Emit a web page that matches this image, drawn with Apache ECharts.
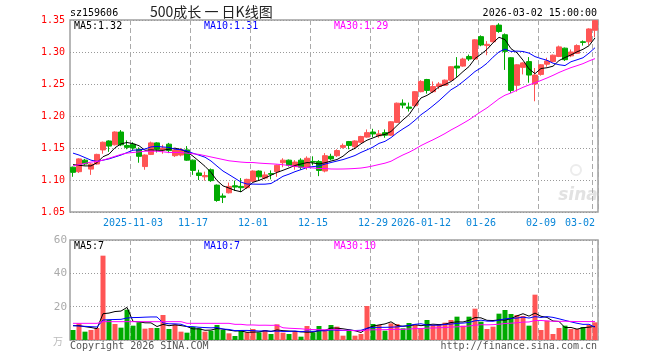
<!DOCTYPE html>
<html><head><meta charset="utf-8">
<script src="https://cdn.jsdelivr.net/npm/echarts@6/dist/echarts.min.js"></script>
<style>html,body{margin:0;padding:0;background:#fff}#c{width:660px;height:360px}</style>
</head><body><div id="c"></div>
<script>
// ---- DATA ----
const dates = [
'2025-10-20','2025-10-21','2025-10-22','2025-10-23','2025-10-24','2025-10-27','2025-10-28','2025-10-29','2025-10-30','2025-10-31',
'2025-11-03','2025-11-04','2025-11-05','2025-11-06','2025-11-07','2025-11-10','2025-11-11','2025-11-12','2025-11-13','2025-11-14',
'2025-11-17','2025-11-18','2025-11-19','2025-11-20','2025-11-21','2025-11-24','2025-11-25','2025-11-26','2025-11-27','2025-11-28',
'2025-12-01','2025-12-02','2025-12-03','2025-12-04','2025-12-05','2025-12-08','2025-12-09','2025-12-10','2025-12-11','2025-12-12',
'2025-12-15','2025-12-16','2025-12-17','2025-12-18','2025-12-19','2025-12-22','2025-12-23','2025-12-24','2025-12-25','2025-12-26',
'2025-12-29','2025-12-30','2025-12-31','2026-01-05','2026-01-06','2026-01-07','2026-01-08','2026-01-09',
'2026-01-12','2026-01-13','2026-01-14','2026-01-15','2026-01-16','2026-01-19','2026-01-20','2026-01-21','2026-01-22','2026-01-23',
'2026-01-26','2026-01-27','2026-01-28','2026-01-29','2026-01-30','2026-02-02','2026-02-03','2026-02-04','2026-02-05','2026-02-06',
'2026-02-09','2026-02-10','2026-02-11','2026-02-12','2026-02-13','2026-02-24','2026-02-25','2026-02-26','2026-02-27','2026-03-02'];

// [open, close, low, high]
const ohlc = [
[1.120,1.112,1.105,1.121],[1.113,1.133,1.111,1.134],[1.131,1.125,1.123,1.133],[1.117,1.125,1.108,1.126],[1.125,1.140,1.124,1.141],
[1.147,1.159,1.141,1.160],[1.161,1.153,1.144,1.162],[1.155,1.175,1.154,1.176],[1.175,1.155,1.153,1.178],[1.154,1.151,1.148,1.162],
[1.156,1.150,1.147,1.159],[1.148,1.137,1.127,1.151],[1.121,1.139,1.116,1.140],[1.140,1.158,1.139,1.160],[1.158,1.148,1.143,1.159],
[1.147,1.150,1.141,1.155],[1.156,1.146,1.142,1.158],[1.138,1.147,1.136,1.149],[1.139,1.147,1.137,1.150],[1.147,1.131,1.130,1.153],
[1.131,1.115,1.108,1.132],[1.111,1.107,1.100,1.116],[1.105,1.107,1.099,1.113],[1.116,1.099,1.097,1.118],[1.092,1.068,1.066,1.093],
[1.075,1.073,1.064,1.079],[1.080,1.090,1.079,1.096],[1.091,1.089,1.083,1.099],[1.090,1.088,1.081,1.103],[1.088,1.101,1.086,1.102],
[1.098,1.114,1.097,1.115],[1.114,1.105,1.099,1.115],[1.103,1.108,1.101,1.113],[1.110,1.109,1.101,1.115],[1.113,1.123,1.105,1.124],
[1.127,1.131,1.120,1.134],[1.131,1.123,1.121,1.132],[1.121,1.128,1.116,1.131],[1.131,1.120,1.116,1.134],[1.120,1.134,1.116,1.137],
[1.129,1.128,1.123,1.137],[1.129,1.115,1.106,1.131],[1.114,1.138,1.112,1.142],[1.137,1.133,1.131,1.141],[1.138,1.146,1.136,1.148],
[1.151,1.154,1.149,1.157],[1.160,1.154,1.148,1.161],[1.152,1.161,1.148,1.162],[1.159,1.168,1.158,1.169],[1.167,1.174,1.166,1.179],
[1.175,1.172,1.167,1.180],[1.169,1.172,1.166,1.178],[1.174,1.170,1.166,1.179],[1.170,1.191,1.169,1.192],[1.190,1.220,1.189,1.221],
[1.220,1.217,1.212,1.226],[1.214,1.212,1.207,1.221],[1.216,1.238,1.214,1.239],[1.238,1.254,1.237,1.256],[1.257,1.240,1.235,1.258],
[1.238,1.246,1.236,1.254],[1.246,1.250,1.242,1.253],[1.248,1.256,1.247,1.257],[1.256,1.277,1.255,1.278],[1.278,1.275,1.261,1.292],
[1.278,1.289,1.277,1.291],[1.293,1.289,1.286,1.296],[1.289,1.319,1.288,1.320],[1.324,1.311,1.309,1.326],[1.310,1.312,1.295,1.317],
[1.316,1.341,1.315,1.342],[1.342,1.332,1.330,1.345],[1.327,1.301,1.272,1.329],[1.291,1.240,1.236,1.292],[1.248,1.280,1.238,1.281],
[1.276,1.283,1.265,1.284],[1.285,1.264,1.252,1.292],[1.250,1.264,1.223,1.275],[1.265,1.280,1.263,1.281],[1.281,1.286,1.277,1.291],
[1.285,1.295,1.284,1.296],[1.293,1.308,1.292,1.310],[1.306,1.288,1.286,1.307],[1.294,1.300,1.292,1.304],[1.298,1.310,1.297,1.312],
[1.316,1.315,1.310,1.318],[1.316,1.336,1.311,1.337],[1.334,1.349,1.323,1.350]];

// volume (万)
const volume = [6,10,5,6,7.2,50.6,12,9.6,7.4,18.2, 8.6,10.6,6.8,7.2,7.2,15,6.6,9.4,5,4.4,
 7.8,7,5,5.6,9,6,4,2.4,6,4.6, 6.6,4.6,6,3.6,9.4,4.4,3.6,5,2,8.4,
 4.6,8.4,5.6,9,8,2.6,5.6,2.6,3.6,20.4, 9.6,9,5.6,10,9.6,7,10.2,9,7.2,12,
 9,9,10.4,12,14,8.6,14,18.8,11,6.6, 8,15.8,18,15.6,15,14.4,8.6,27.2,6,11.6,
 3.6,7.2,8.6,6.6,6.6,7.8,9,10.6];

const ma5Head = [1.124,1.123,1.122,1.122];
const ma10Head = [1.142,1.139,1.135,1.131,1.129,1.131,1.133,1.136,1.139];
const ma30Head = [1.122,1.124,1.126,1.128,1.129,1.131,1.134,1.137,1.140,1.142,1.143,1.144,1.145,1.145,1.145,
 1.144,1.143,1.143,1.143,1.142,1.141,1.140,1.138,1.136,1.134,1.132,1.130,1.129,1.128];
const vma5Head = [8.6,8.6,8.0,7.5];
const vma10Head = [8.6,8.4,8.2,8.0,7.8,12.0,12.2,12.3,12.4];
const vma30Head = [10,10,10,10,10,11,11,11,11,11,11,11,11,11,11,11,11,11,11,10,10,10,10,10,10,10,10,9.4,9.4];

const tickIdx = [10,20,30,40,50,58,68,78,87];
const tickLabels = ['2025-11-03','11-17','12-01','12-15','12-29','2026-01-12','01-26','02-09','03-02'];
const priceTicks = [1.05,1.35,0.05];
const volTicks = [0,60,20];
const legendPrice = ['MA5:1.32','MA10:1.31','MA30:1.29'];
const legendVol = ['MA5:7','MA10:7','MA30:10'];

// ---- BUILD ----
const closes = ohlc.map(d => d[1]);
function ma(arr, n, head) {
  return arr.map((v, i) => {
    if (i < n - 1) return head[i];
    let s = 0; for (let k = i - n + 1; k <= i; k++) s += arr[k];
    return +(s / n).toFixed(4);
  });
}
const UP = '#ff5555', DOWN = '#00aa00';
const mono = 'DejaVu Sans Mono';
const labelMap = {}; tickIdx.forEach((t, k) => labelMap[t] = tickLabels[k]);
const isTick = (i) => labelMap[i] !== undefined;
const catData = dates.map((d, i) => i === dates.length - 1 ? {value: d, textStyle: {align: 'right'}} : d);

const volData = volume.map((v, i) => ({value: v, itemStyle: {color: ohlc[i][1] >= ohlc[i][0] ? UP : DOWN}}));

const split = {show: true, interval: (i) => isTick(i), lineStyle: {color: '#aaa', type: [5, 3], width: 1}};

const chart = echarts.init(document.getElementById('c'), null, {renderer: 'canvas'});
chart.setOption({
  animation: false,
  backgroundColor: '#fff',
  grid: [
    {left: 70, top: 20, width: 528, height: 192, show: true, borderColor: '#a0a0a0', borderWidth: 1.5, containLabel: false},
    {left: 70, top: 240, width: 528, height: 100, show: true, borderColor: '#a0a0a0', borderWidth: 1.5, containLabel: false}
  ],
  xAxis: [
    {type: 'category', gridIndex: 0, data: catData, boundaryGap: true,
     axisLine: {show: false}, axisTick: {show: false},
     axisLabel: {show: true, interval: (i) => isTick(i), formatter: (v, i) => labelMap[i] || '',
       color: '#0a86d8', fontFamily: mono, fontSize: 10, margin: 6},
     splitLine: split},
    {type: 'category', gridIndex: 1, data: dates, boundaryGap: true,
     axisLine: {show: false}, axisTick: {show: false}, axisLabel: {show: false},
     splitLine: split}
  ],
  yAxis: [
    {type: 'value', gridIndex: 0, min: priceTicks[0], max: priceTicks[1], interval: priceTicks[2],
     axisLine: {show: false}, axisTick: {show: false},
     axisLabel: {color: '#ff0000', fontFamily: mono, fontSize: 10, margin: 5, formatter: v => v.toFixed(2)},
     splitLine: {show: true, lineStyle: {color: '#999', type: [1, 2], width: 1}}},
    {type: 'value', gridIndex: 1, min: volTicks[0], max: volTicks[1], interval: volTicks[2],
     axisLine: {show: false}, axisTick: {show: false},
     axisLabel: {color: '#aaa', fontFamily: mono, fontSize: 11, margin: 3, formatter: v => v === 0 ? '' : String(v)},
     splitLine: {show: true, lineStyle: {color: '#999', type: [1, 2], width: 1}}}
  ],
  series: [
    {type: 'candlestick', xAxisIndex: 0, yAxisIndex: 0, data: ohlc, barWidth: 5, clip: true,
     itemStyle: {color: UP, color0: DOWN, borderColor: UP, borderColor0: DOWN, borderWidth: 1}},
    {type: 'line', xAxisIndex: 0, yAxisIndex: 0, data: ma(closes, 5, ma5Head), showSymbol: false, lineStyle: {color: '#000', width: 1}, itemStyle: {color: '#000'}},
    {type: 'line', xAxisIndex: 0, yAxisIndex: 0, data: ma(closes, 10, ma10Head), showSymbol: false, lineStyle: {color: '#0000ff', width: 1}, itemStyle: {color: '#0000ff'}},
    {type: 'line', xAxisIndex: 0, yAxisIndex: 0, data: ma(closes, 30, ma30Head), showSymbol: false, lineStyle: {color: '#ff00ff', width: 1}, itemStyle: {color: '#ff00ff'}},
    {type: 'bar', xAxisIndex: 1, yAxisIndex: 1, data: volData, barWidth: 5},
    {type: 'line', xAxisIndex: 1, yAxisIndex: 1, data: ma(volume, 5, vma5Head), showSymbol: false, lineStyle: {color: '#000', width: 1}},
    {type: 'line', xAxisIndex: 1, yAxisIndex: 1, data: ma(volume, 10, vma10Head), showSymbol: false, lineStyle: {color: '#0000ff', width: 1}},
    {type: 'line', xAxisIndex: 1, yAxisIndex: 1, data: ma(volume, 30, vma30Head), showSymbol: false, lineStyle: {color: '#ff00ff', width: 1}}
  ],
  graphic: [
    {type: 'text', x: 70, y: 13, style: {text: 'sz159606', font: '10px ' + mono, fill: '#000', verticalAlign: 'middle'}},
    {type: 'text', x: 150, y: 12, style: {text: '500成长 一 日K线图', font: '14px "Noto Sans CJK SC"', fill: '#222', verticalAlign: 'middle'}},
    {type: 'text', x: 597, y: 13, style: {text: '2026-03-02 15:00:00', font: '10px ' + mono, fill: '#000', align: 'right', verticalAlign: 'middle'}},
    {type: 'text', x: 74, y: 26, style: {text: legendPrice[0], font: '10px ' + mono, fill: '#000', verticalAlign: 'middle'}},
    {type: 'text', x: 204, y: 26, style: {text: legendPrice[1], font: '10px ' + mono, fill: '#0000ff', verticalAlign: 'middle'}},
    {type: 'text', x: 334, y: 26, style: {text: legendPrice[2], font: '10px ' + mono, fill: '#ff00ff', verticalAlign: 'middle'}},
    {type: 'text', x: 74, y: 246, style: {text: legendVol[0], font: '10px ' + mono, fill: '#000', verticalAlign: 'middle'}},
    {type: 'text', x: 204, y: 246, style: {text: legendVol[1], font: '10px ' + mono, fill: '#0000ff', verticalAlign: 'middle'}},
    {type: 'text', x: 334, y: 246, style: {text: legendVol[2], font: '10px ' + mono, fill: '#ff00ff', verticalAlign: 'middle'}},
    {type: 'text', x: 63, y: 341, style: {text: '万', font: '10px "Noto Sans CJK SC"', fill: '#bbb', align: 'right', verticalAlign: 'middle'}},
    {type: 'text', x: 70, y: 346, style: {text: 'Copyright 2026 SINA.COM', font: '10px ' + mono, fill: '#555', verticalAlign: 'middle'}},
    {type: 'text', x: 597, y: 346, style: {text: 'http://finance.sina.com.cn', font: '10px ' + mono, fill: '#555', align: 'right', verticalAlign: 'middle'}},
    {type: 'text', x: 578, y: 196, style: {text: 'sina', font: 'italic bold 17px "DejaVu Sans"', fill: '#e2e2e2', align: 'center', verticalAlign: 'middle'}},
    {type: 'circle', shape: {cx: 576, cy: 170, r: 5}, style: {fill: 'none', stroke: '#ececec', lineWidth: 2}}
  ]
});
</script></body></html>
